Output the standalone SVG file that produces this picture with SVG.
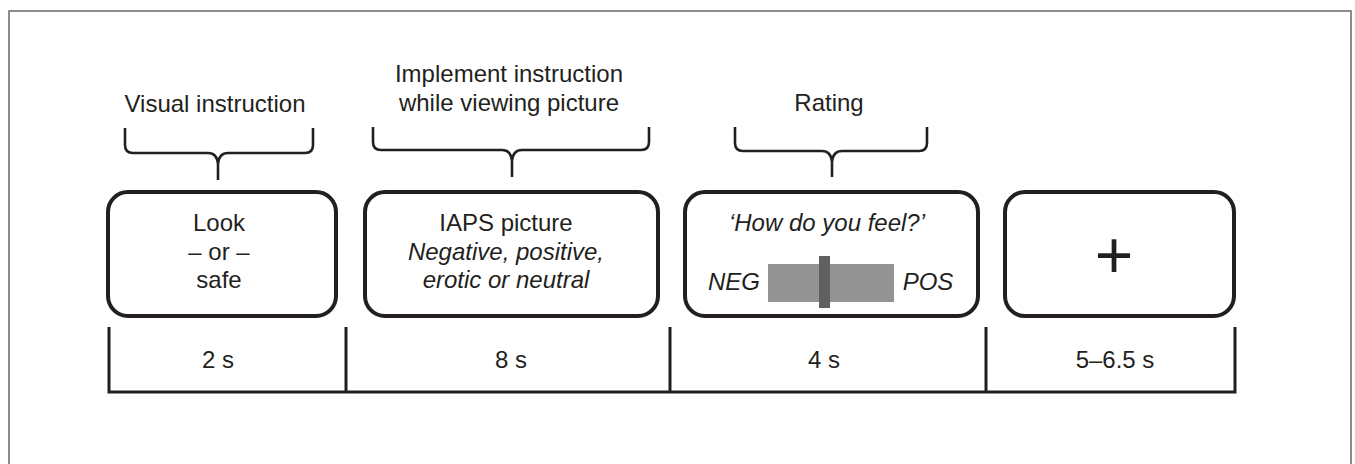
<svg xmlns="http://www.w3.org/2000/svg" width="1355" height="464" viewBox="0 0 1355 464">
<style>
.t{font-family:"Liberation Sans",Arial,sans-serif;font-size:24px;fill:#231f20;text-anchor:middle}
.i{font-style:italic}
.box{fill:#fff;stroke:#231f20;stroke-width:4}
.br{fill:none;stroke:#231f20;stroke-width:2.6;stroke-linecap:butt}
.tl{fill:none;stroke:#231f20;stroke-width:3}
</style>
<rect x="0" y="0" width="1355" height="464" fill="#fff"/>
<rect x="9" y="11" width="1342" height="470" fill="none" stroke="#666" stroke-width="1.5"/>

<g id="labels">
<text class="t" x="215" y="112">Visual instruction</text>
<text class="t" x="509" y="82">Implement instruction</text>
<text class="t" x="509" y="111">while viewing picture</text>
<text class="t" x="829" y="111">Rating</text>
</g>

<g id="connectors">
<path class="br" d="M125,128 V145 Q125,153 133,153 H208 Q217,153 218,164 V180 M218,164 Q219,153 228,153 H305 Q313,153 313,145 V128"/>
<path class="br" d="M373,127 V142 Q373,150 381,150 H502 Q511,150 512,161 V177 M512,161 Q513,150 522,150 H641 Q649,150 649,142 V127"/>
<path class="br" d="M735,127 V143 Q735,151 743,151 H822 Q831,151 832,162 V177 M832,162 Q833,151 842,151 H919 Q927,151 927,143 V127"/>
</g>

<g id="box1">
<rect class="box" x="108" y="192" width="228" height="124" rx="20"/>
<text class="t" x="219" y="231">Look</text>
<text class="t" x="219" y="260">– or –</text>
<text class="t" x="219" y="288">safe</text>
</g>

<g id="box2">
<rect class="box" x="365" y="192" width="293" height="124" rx="20"/>
<text class="t" x="506" y="231">IAPS picture</text>
<text class="t i" x="506" y="260">Negative, positive,</text>
<text class="t i" x="506" y="288">erotic or neutral</text>
</g>

<g id="box3">
<rect class="box" x="685" y="192" width="293" height="124" rx="20"/>
<text class="t i" x="827" y="231">‘How do you feel?’</text>
<rect x="768" y="264" width="126" height="38" fill="#939393"/>
<rect x="819" y="256" width="11" height="52" fill="#606060"/>
<text class="t i" x="734" y="290">NEG</text>
<text class="t i" x="928" y="290">POS</text>
</g>

<g id="box4">
<rect class="box" x="1005" y="192" width="229" height="124" rx="20"/>
<text class="t" x="1114" y="278" style="font-size:66px">+</text>
</g>

<g id="timeline">
<path class="tl" d="M109,327 V392 H1235 V327 M346,327 V392 M670,327 V392 M986,327 V392"/>
<text class="t" x="218" y="368">2 s</text>
<text class="t" x="511" y="368">8 s</text>
<text class="t" x="824" y="368">4 s</text>
<text class="t" x="1115" y="368">5–6.5 s</text>
</g>
</svg>
